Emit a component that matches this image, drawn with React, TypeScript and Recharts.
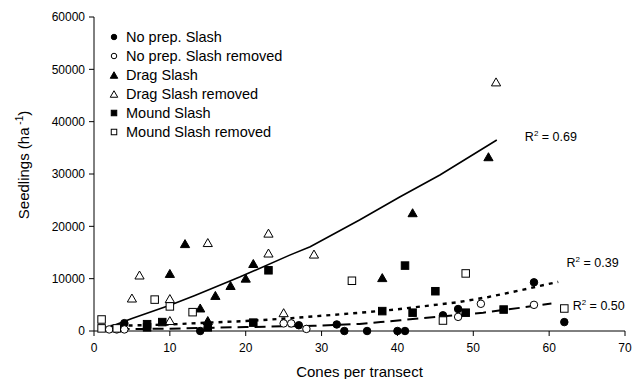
import React from 'react';
import { ScatterChart, Scatter, XAxis, YAxis, ReferenceDot } from 'recharts';

// cones per transect (x) vs seedlings per ha (y)
const noPrepSlash = [
  { x: 4, y: 1500 }, { x: 14, y: 0 }, { x: 27, y: 1100 }, { x: 32, y: 1250 },
  { x: 33, y: 0 }, { x: 36, y: 0 }, { x: 40, y: 0 }, { x: 41, y: 0 },
  { x: 46, y: 3000 }, { x: 48, y: 4200 }, { x: 58, y: 9300 }, { x: 62, y: 1700 },
];
const noPrepRemoved = [
  { x: 2, y: 300 }, { x: 3, y: 300 }, { x: 4, y: 300 }, { x: 25, y: 1450 },
  { x: 26, y: 1450 }, { x: 28, y: 400 }, { x: 48, y: 2700 }, { x: 51, y: 5200 },
  { x: 58, y: 5000 },
];
const dragSlash = [
  { x: 10, y: 11000 }, { x: 12, y: 16700 }, { x: 14, y: 4400 }, { x: 15, y: 2000 },
  { x: 16, y: 6800 }, { x: 18, y: 8700 }, { x: 20, y: 10100 }, { x: 21, y: 12900 },
  { x: 38, y: 10200 }, { x: 42, y: 22600 }, { x: 52, y: 33300 },
];
const dragRemoved = [
  { x: 5, y: 6300 }, { x: 6, y: 10700 }, { x: 10, y: 6200 }, { x: 10, y: 2000 },
  { x: 15, y: 16900 }, { x: 23, y: 18700 }, { x: 23, y: 14900 }, { x: 25, y: 3500 },
  { x: 29, y: 14700 }, { x: 53, y: 47600 },
];
const moundSlash = [
  { x: 7, y: 1300 }, { x: 7, y: 700 }, { x: 9, y: 1700 }, { x: 15, y: 700 },
  { x: 21, y: 1600 }, { x: 23, y: 11600 }, { x: 38, y: 3800 }, { x: 41, y: 12500 },
  { x: 42, y: 3500 }, { x: 45, y: 7600 }, { x: 49, y: 3500 }, { x: 54, y: 4100 },
];
const moundRemoved = [
  { x: 1, y: 2200 }, { x: 1, y: 500 }, { x: 3, y: 500 }, { x: 8, y: 6000 },
  { x: 10, y: 4700 }, { x: 13, y: 3600 }, { x: 34, y: 9600 }, { x: 46, y: 2000 },
  { x: 49, y: 11000 }, { x: 62, y: 4300 },
];

// fitted trend lines
const trendSolid = [
  { x: 1, y: 200 }, { x: 5, y: 2400 }, { x: 10, y: 4900 }, { x: 13.3, y: 6800 },
  { x: 19.2, y: 10300 }, { x: 25.8, y: 14500 }, { x: 28.5, y: 16100 }, { x: 35, y: 21200 },
  { x: 40.3, y: 25600 }, { x: 45.6, y: 29800 }, { x: 53.1, y: 36500 },
];
const trendDotted = [
  { x: 1, y: 900 }, { x: 10, y: 1250 }, { x: 15, y: 1600 }, { x: 20, y: 1900 },
  { x: 26, y: 2450 }, { x: 36, y: 3600 }, { x: 40, y: 4150 }, { x: 48, y: 5500 },
  { x: 52, y: 6500 }, { x: 56.6, y: 7900 }, { x: 61.2, y: 9400 },
];
const trendDashed = [
  { x: 1, y: 300 }, { x: 10, y: 450 }, { x: 20, y: 750 }, { x: 29, y: 1000 },
  { x: 35, y: 1350 }, { x: 37.8, y: 1700 }, { x: 40.4, y: 2050 }, { x: 43.3, y: 2450 },
  { x: 51.3, y: 3500 }, { x: 56.8, y: 4550 }, { x: 60.3, y: 5250 },
];

const xTicks = [0, 10, 20, 30, 40, 50, 60, 70];
const yTicks = [0, 10000, 20000, 30000, 40000, 50000, 60000];

const r2Labels = [
  { x: 56.8, y: 37000, text: '0.69' },
  { x: 62.3, y: 13000, text: '0.39' },
  { x: 63.1, y: 4700, text: '0.50' },
];

const FONT = '"Liberation Sans", Arial, sans-serif';

const Marker = ({ cx, cy, kind, filled, size }: any) => {
  const fill = filled ? '#000' : '#fff';
  if (kind === 'circle') {
    return <circle cx={cx} cy={cy} r={size / 2} fill={fill} stroke="#000" strokeWidth={1} />;
  }
  if (kind === 'triangle') {
    const w = size * 1.15;
    const h = size;
    return (
      <polygon
        points={`${cx},${cy - h / 2} ${cx - w / 2},${cy + h / 2} ${cx + w / 2},${cy + h / 2}`}
        fill={fill}
        stroke="#000"
        strokeWidth={1}
      />
    );
  }
  return <rect x={cx - size / 2} y={cy - size / 2} width={size} height={size} fill={fill} stroke="#000" strokeWidth={1} />;
};

const series = [
  { name: 'No prep. Slash', data: noPrepSlash, kind: 'circle', filled: true },
  { name: 'No prep. Slash removed', data: noPrepRemoved, kind: 'circle', filled: false },
  { name: 'Drag Slash', data: dragSlash, kind: 'triangle', filled: true },
  { name: 'Drag Slash removed', data: dragRemoved, kind: 'triangle', filled: false },
  { name: 'Mound Slash', data: moundSlash, kind: 'square', filled: true },
  { name: 'Mound Slash removed', data: moundRemoved, kind: 'square', filled: false },
];

const trends = [
  { data: trendSolid, dash: undefined, width: 1.6 },
  { data: trendDotted, dash: '4 5', width: 2.4 },
  { data: trendDashed, dash: '11 6', width: 2 },
];

const YTitle = ({ viewBox }: any) => {
  const cy = viewBox.y + viewBox.height / 2 - 9;
  const x = 29;
  return (
    <text x={x} y={cy} transform={`rotate(-90, ${x}, ${cy})`} textAnchor="middle" fontSize={15} fontFamily={FONT} fill="#000">
      Seedlings (ha
      <tspan fontSize={10} dy={-6}> -1</tspan>
      <tspan dy={6}>)</tspan>
    </text>
  );
};

const XTitle = ({ viewBox }: any) => (
  <text x={viewBox.x + viewBox.width / 2} y={377} textAnchor="middle" fontSize={15} fontFamily={FONT} fill="#000">
    Cones per transect
  </text>
);

const R2Label = ({ cx, cy, text }: any) => (
  <text x={cx} y={cy + 4} fontSize={12.5} fontFamily={FONT} fill="#000">
    R<tspan fontSize={8} dy={-5}>2</tspan>
    <tspan dy={5}> = {text}</tspan>
  </text>
);

export default function App() {
  return (
    <div style={{ position: 'absolute', left: 0, top: 0, width: 639, height: 379, background: '#fff', fontFamily: FONT }}>
      <ScatterChart width={639} height={379} margin={{ top: 17, right: 14, bottom: 18, left: 0 }}>
        <XAxis
          type="number"
          dataKey="x"
          domain={[0, 70]}
          ticks={xTicks}
          height={30}
          tickSize={5}
          tickMargin={7}
          stroke="#000"
          tick={{ fill: '#000', fontSize: 12, fontFamily: FONT }}
          label={<XTitle />}
        />
        <YAxis
          type="number"
          dataKey="y"
          domain={[0, 60000]}
          ticks={yTicks}
          width={94}
          tickSize={5}
          tickMargin={4}
          stroke="#000"
          tick={{ fill: '#000', fontSize: 12, fontFamily: FONT }}
          label={<YTitle />}
        />
        {trends.map((t, i) => (
          <Scatter
            key={`trend-${i}`}
            data={t.data}
            isAnimationActive={false}
            line={{ stroke: '#000', strokeWidth: t.width, strokeDasharray: t.dash }}
            lineType="joint"
            shape={() => <g />}
          />
        ))}
        {series.map((s) => (
          <Scatter
            key={s.name}
            name={s.name}
            data={s.data}
            isAnimationActive={false}
            shape={(p: any) => <Marker cx={p.cx} cy={p.cy} kind={s.kind} filled={s.filled} size={s.kind === 'triangle' ? 8 : 7.5} />}
          />
        ))}
        {r2Labels.map((l) => (
          <ReferenceDot
            key={l.text}
            x={l.x}
            y={l.y}
            r={0}
            shape={(p: any) => <R2Label cx={p.cx} cy={p.cy} text={l.text} />}
          />
        ))}
      </ScatterChart>
      <div style={{ position: 'absolute', left: 108, top: 27 }}>
        {series.map((s) => (
          <div key={s.name} style={{ display: 'flex', alignItems: 'center', height: 19, fontSize: 14.5, color: '#000' }}>
            <svg width={12} height={12} style={{ marginRight: 6 }}>
              <Marker cx={6} cy={6} kind={s.kind} filled={s.filled} size={s.kind === 'triangle' ? 6.5 : 5.5} />
            </svg>
            <span>{s.name}</span>
          </div>
        ))}
      </div>
    </div>
  );
}
